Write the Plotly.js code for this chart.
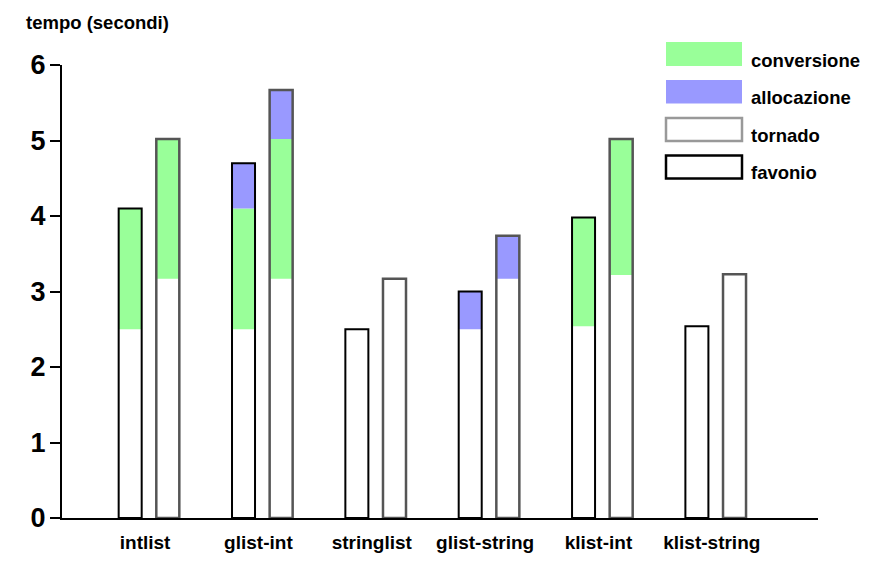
<!DOCTYPE html>
<html>
<head>
<meta charset="utf-8">
<script src="https://cdn.plot.ly/plotly-3.0.1.min.js"></script>
<style>
html,body{margin:0;padding:0;background:#fff;}
#chart{width:885px;height:587px;}
</style>
</head>
<body>
<div id="chart"></div>
<script>
// ---- data ----
const categories = ['intlist', 'glist-int', 'stringlist', 'glist-string', 'klist-int', 'klist-string'];
const favonioBase = [2.5, 2.5, 2.5, 2.5, 2.54, 2.54];
const favonioConv = [1.6, 1.6, 0, 0, 1.44, 0];
const favonioAlloc = [0, 0.6, 0, 0.5, 0, 0];
const tornadoBase = [3.17, 3.17, 3.17, 3.17, 3.22, 3.23];
const tornadoConv = [1.85, 1.85, 0, 0, 1.8, 0];
const tornadoAlloc = [0, 0.65, 0, 0.57, 0, 0];
const legendNames = ['conversione', 'allocazione', 'tornado', 'favonio'];
const yTitle = 'tempo (secondi)';

// ---- style ----
const GREEN = '#99ff99';
const BLUE = '#9999ff';
const FONT = 'Liberation Sans, Arial, Helvetica, sans-serif';
const BAR_W = 0.203;

function add(a, b) { return a.map((v, i) => v + b[i]); }

function group(base, conv, alloc, offset, lineColor, lineWidth) {
  const convTop = add(base, conv);
  const total = add(convTop, alloc);
  return [
    {type: 'bar', x: categories, y: conv, base: base, offset: offset, width: BAR_W,
     marker: {color: GREEN, line: {width: 0}}, showlegend: false, hoverinfo: 'skip'},
    {type: 'bar', x: categories, y: alloc, base: convTop, offset: offset, width: BAR_W,
     marker: {color: BLUE, line: {width: 0}}, showlegend: false, hoverinfo: 'skip'},
    {type: 'bar', x: categories, y: total, offset: offset, width: BAR_W,
     marker: {color: 'rgba(0,0,0,0)', line: {color: lineColor, width: lineWidth}},
     showlegend: false, hoverinfo: 'skip'}
  ];
}

const traces = [].concat(
  group(favonioBase, favonioConv, favonioAlloc, -0.233, '#000000', 2),
  group(tornadoBase, tornadoConv, tornadoAlloc, 0.099, '#555555', 2.5)
);

// plot area in pixels (for legend placement)
const L = 62, R = 818, T = 65, B = 518.3;
const px = x => (x - L) / (R - L);
const py = y => (B - y) / (B - T);

const swatches = [
  {y0: 42, y1: 66, fill: GREEN, line: 'rgba(0,0,0,0)', w: 0},
  {y0: 80, y1: 103.5, fill: BLUE, line: 'rgba(0,0,0,0)', w: 0},
  {y0: 118, y1: 141, fill: '#ffffff', line: '#999999', w: 2.5},
  {y0: 155.5, y1: 178.5, fill: '#ffffff', line: '#000000', w: 2.5}
];
const shapes = swatches.map(s => ({
  type: 'rect', xref: 'paper', yref: 'paper',
  x0: px(666), x1: px(742), y0: py(s.y1), y1: py(s.y0),
  fillcolor: s.fill, line: {color: s.line, width: s.w}
}));
const annotations = legendNames.map((n, i) => ({
  xref: 'paper', yref: 'paper', x: px(749), y: py((swatches[i].y0 + swatches[i].y1) / 2 + 6),
  xanchor: 'left', yanchor: 'middle', showarrow: false, text: n,
  font: {family: FONT, size: 18.5, color: '#000', weight: 'bold'}
}));
annotations.push({
  xref: 'paper', yref: 'paper', x: px(24), y: py(22), xanchor: 'left', yanchor: 'middle',
  showarrow: false, text: yTitle, font: {family: FONT, size: 18.5, color: '#000', weight: 'bold'}
});

const layout = {
  width: 885, height: 587,
  margin: {l: L, r: 885 - R, t: T, b: 587 - B, pad: 0},
  paper_bgcolor: '#ffffff', plot_bgcolor: '#ffffff',
  barmode: 'overlay',
  showlegend: false,
  hovermode: false,
  font: {family: FONT, color: '#000'},
  xaxis: {
    type: 'category', range: [-0.733, 5.937],
    showline: true, linecolor: '#000', linewidth: 2,
    ticks: '', showgrid: false, zeroline: false, ticklabelstandoff: 6,
    tickfont: {family: FONT, size: 19, color: '#000', weight: 'bold'}
  },
  yaxis: {
    range: [0, 6], tick0: 0, dtick: 1,
    showline: true, linecolor: '#000', linewidth: 2,
    ticks: 'outside', ticklen: 10, tickwidth: 2, tickcolor: '#000',
    showgrid: false, zeroline: false, ticklabelstandoff: -1,
    tickfont: {family: FONT, size: 27, color: '#000', weight: 'bold'}
  },
  shapes: shapes,
  annotations: annotations
};

Plotly.newPlot('chart', traces, layout, {displayModeBar: false, staticPlot: true});
</script>
</body>
</html>
